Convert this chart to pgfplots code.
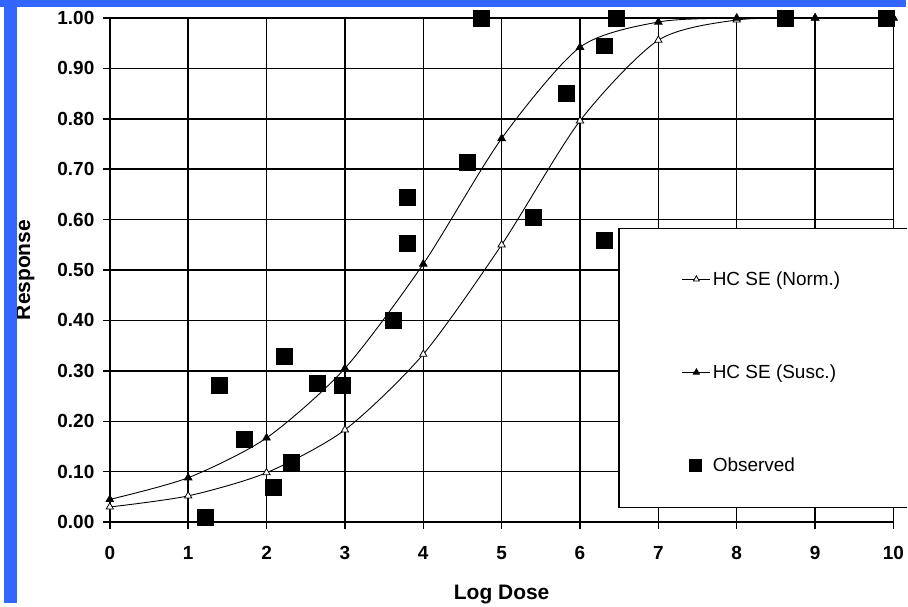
\documentclass[border=0pt]{standalone}
\usepackage{fontspec}
\setmainfont{Liberation Sans}
\usepackage{pgfplots}
\pgfplotsset{compat=1.18}
\definecolor{barblue}{RGB}{51,102,255}
\begin{document}
\begin{tikzpicture}
\fill[white] (0pt,0pt) rectangle (908pt,604pt);
\begin{axis}[
  at={(110pt,81pt)}, anchor=south west,
  scale only axis, width=785pt, height=505pt,
  xmin=0, xmax=10, ymin=0, ymax=1,
  axis x line*=bottom, axis y line*=left,
  axis line style={line width=2.5pt, -},
  grid=major, grid style={black, line width=1.5pt},
  xtick={0,1,2,3,4,5,6,7,8,9,10},
  ytick={0,0.1,0.2,0.3,0.4,0.5,0.6,0.7,0.8,0.9,1.0},
  tick align=outside, major tick length=7pt,
  tick style={black, line width=1.5pt},
  /pgf/number format/assume math mode=true,
  ticklabel style={font=\fontsize{19}{19}\selectfont\bfseries},
  yticklabel style={/pgf/number format/fixed, /pgf/number format/fixed zerofill, /pgf/number format/precision=2, xshift=-5pt},
  xticklabel style={yshift=-14pt},
  xlabel={Log Dose}, ylabel={Response},
  label style={font=\fontsize{21}{21}\selectfont\bfseries},
  xlabel style={at={(axis description cs:0.5,-0.143)}, anchor=center},
  ylabel style={at={(axis description cs:-0.108,0.5)}, anchor=center},
  clip=false,
  legend cell align=left,
  legend style={at={(axis cs:7.26,0.505)}, anchor=north west, draw=none, fill=none,
    font=\fontsize{19}{19}\selectfont, row sep=74pt},
]
\addplot[black, line width=0.9pt, smooth, tension=0.45, mark=triangle*, mark size=4.2pt,
  mark options={fill=white, line width=0.8pt},
  legend image code/.code={\draw[mark repeat=2,mark phase=2,mark size=3.5pt] plot coordinates {(0pt,0pt) (14pt,0pt) (28pt,0pt)};}]
coordinates {(0,0.03)(1,0.052)(2,0.098)(3,0.183)(4,0.333)(5,0.55)(6,0.796)(7,0.956)(8,0.996)(9,1.0)(10,1.0)};
\addlegendentry{HC SE (Norm.)}
\addplot[black, line width=0.9pt, smooth, tension=0.45, mark=triangle*, mark size=4.2pt,
  mark options={fill=black},
  legend image code/.code={\draw[mark repeat=2,mark phase=2,mark size=3.5pt] plot coordinates {(0pt,0pt) (14pt,0pt) (28pt,0pt)};}]
coordinates {(0,0.045)(1,0.088)(2,0.167)(3,0.305)(4,0.512)(5,0.761)(6,0.942)(7,0.992)(8,1.0)(9,1.0)(10,1.0)};
\addlegendentry{HC SE (Susc.)}
\addplot[only marks, mark=square*, mark size=8pt, mark options={fill=black, draw=black},
  legend image code/.code={\draw[mark size=6pt] plot coordinates {(13pt,0pt)};}]
coordinates {(1.22,0.01)(1.40,0.271)(1.71,0.164)(2.09,0.07)(2.23,0.33)(2.31,0.119)(2.65,0.275)(2.97,0.271)(3.62,0.40)(3.80,0.554)(3.80,0.644)(4.56,0.713)(4.74,1.0)(5.40,0.604)(5.82,0.85)(6.31,0.56)(6.31,0.945)(6.46,1.0)(8.62,1.0)(9.91,1.0)};
\addlegendentry{Observed}
\fill[white] (axis cs:6.497,0.0297) rectangle (axis cs:10.178,0.582);
\draw[line width=1.2pt] (axis cs:10.178,0.582) -- (axis cs:6.497,0.582) -- (axis cs:6.497,0.0297) -- (axis cs:10.178,0.0297);
\end{axis}
\fill[barblue] (0pt,596.7pt) rectangle (908pt,604pt);
\fill[barblue] (4pt,0pt) rectangle (17pt,604pt);
\end{tikzpicture}
\end{document}
